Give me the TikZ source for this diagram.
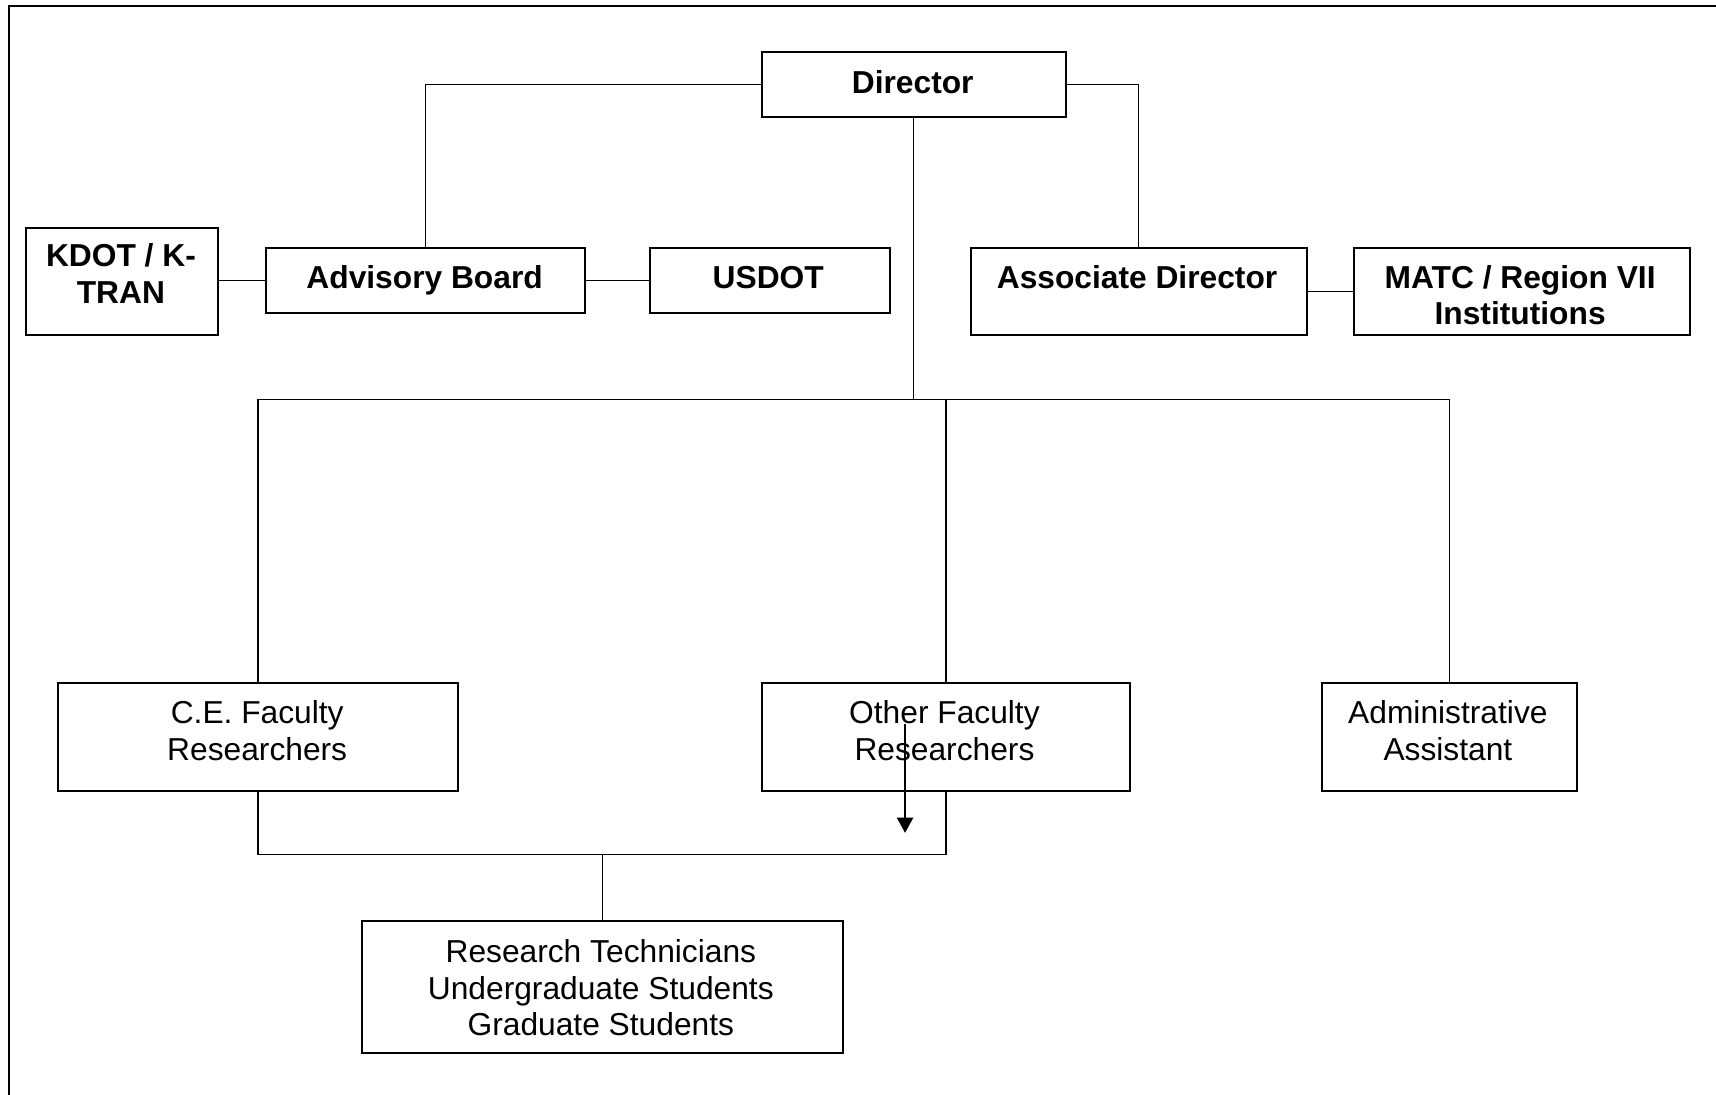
\documentclass[tikz,border=0pt]{standalone}
\usepackage{fontspec}
\setmainfont{Liberation Sans}
\usetikzlibrary{arrows.meta}
\begin{document}
\begin{tikzpicture}[x=1pt,y=-1pt,
  box/.style={draw, line width=1.8pt, inner sep=0pt, anchor=north west},
  lbl/.style={font=\fontsize{29}{33.4}\selectfont, align=center, inner sep=0pt, anchor=base},
  lblb/.style={lbl, font=\fontsize{29}{33.4}\selectfont\bfseries},
  conn/.style={line width=1.4pt}]
\useasboundingbox (0,0) rectangle (1568,1000);
% frame
\draw[line width=2.2pt] (8,1001) -- (8,5.5) -- (1569,5.5);
% boxes
\node[box, minimum width=278pt, minimum height=59pt] (dir) at (695,47) {};
\node[box, minimum width=175pt, minimum height=98pt] (kdot) at (23,207) {};
\node[box, minimum width=292pt, minimum height=59pt] (adv) at (242,226) {};
\node[box, minimum width=219pt, minimum height=59pt] (usdot) at (593,226) {};
\node[box, minimum width=307pt, minimum height=79pt] (assoc) at (886,226) {};
\node[box, minimum width=307pt, minimum height=79pt] (matc) at (1236,226) {};
\node[box, minimum width=366pt, minimum height=99pt] (ce) at (52,623) {};
\node[box, minimum width=337pt, minimum height=99pt] (other) at (695,623) {};
\node[box, minimum width=233pt, minimum height=99pt] (admin) at (1207,623) {};
\node[box, minimum width=439pt, minimum height=120pt] (res) at (330,841) {};
% texts (base anchor = baseline of last line)
\node[lblb] (tdir) at (834,85.5) {Director};
\node[lblb] (tkdot) at (110.5,276.9) {KDOT / K-\\TRAN};
\node[lblb] (tadv) at (388,263.5) {Advisory Board};
\node[lblb] (tusdot) at (702,263.5) {USDOT};
\node[lblb] (tassoc) at (1039,263.5) {Associate Director};
\node[lblb] (tmatc) at (1389,296.9) {MATC / Region VII\\Institutions};
\node[lbl] (tce) at (235,694.9) {C.E. Faculty\\Researchers};
\node[lbl] (tother) at (863,694.9) {Other Faculty\\Researchers};
\node[lbl] (tadmin) at (1323,694.9) {Administrative\\Assistant};
\node[lbl] (tres) at (549,946.3) {Research Technicians\\Undergraduate Students\\Graduate Students};
% connectors
\coordinate (j) at (834,365);
\coordinate (b) at (549,781);
\coordinate (a1) at (827,662);
\coordinate (a2) at (827,761);
\draw[conn] (dir.west) -| (adv.north);
\draw[conn] (dir.east) -| (assoc.north);
\draw[conn] (adv.west -| kdot.east) -- (adv.west);
\draw[conn] (adv.east) -- (usdot.west);
\draw[conn] (assoc.east) -- (matc.west);
\draw[conn] (dir.south) -- (dir.south |- j);
\draw[conn] (ce.north) |- (admin.north |- j) -- (admin.north);
\draw[conn] (other.north) -- (other.north |- j);
\draw[conn] (ce.south) |- (other.south |- b) -- (other.south);
\draw[conn] (res.north |- b) -- (res.north);
\draw[conn, -{Triangle[width=15pt,length=14pt]}] (a1) -- (a2);
\end{tikzpicture}
\end{document}
